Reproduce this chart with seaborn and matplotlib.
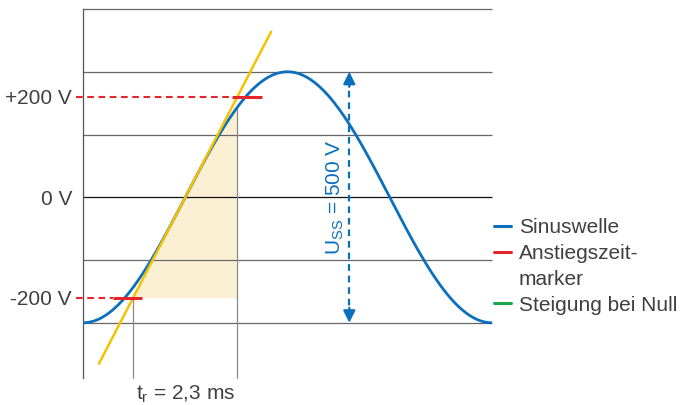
import numpy as np
import pandas as pd
import matplotlib
matplotlib.use("Agg")
import matplotlib.pyplot as plt
from matplotlib.lines import Line2D
import seaborn as sns

# ---- data ----
amplitude_v = 250.0          # U_ss = 500 V
period_ms = 9.0              # one full cycle across the plot
grid_levels = [375, 250, 125, 0, -125, -250]
tick_values = [-200, 0, 200]
tick_labels = ["-200 V", "0 V", "+200 V"]
marker_levels = [-200, 200]
marker_seg_start = [0.66, 3.28]
marker_seg_end = [1.30, 3.94]
tangent_t = [0.35, 4.14]
arrow_t = 5.86
legend_labels = ["Sinuswelle", "Anstiegszeit-", "marker", "Steigung bei Null"]

BLUE = "#0a6fbd"
RED = "#e4252b"
YELLOW = "#f6c200"
GREEN = "#1aa64b"
SHADE = "#fcf0d4"
TXT = "#404040"

sns.set_theme(style="white")
plt.rcParams["font.family"] = ["Liberation Sans", "DejaVu Sans"]
plt.rcParams["mathtext.fontset"] = "custom"
plt.rcParams["mathtext.rm"] = "Liberation Sans"
plt.rcParams["mathtext.it"] = "Liberation Sans"

fig = plt.figure(figsize=(6.84, 4.05), dpi=100)
ax = fig.add_axes([83 / 684, 27 / 405, 409 / 684, 371 / 405])
ax.set_xlim(0, period_ms)
ax.set_ylim(-360, 379)

# sine wave
t = np.linspace(0, period_ms, 600)
v = -amplitude_v * np.cos(2 * np.pi * t / period_ms)
df = pd.DataFrame({"t": t, "v": v})

# tangent at zero crossing
t0 = period_ms / 4
slope = amplitude_v * 2 * np.pi / period_ms
t1 = t0 + marker_levels[0] / slope
t2 = t0 + marker_levels[1] / slope

# shaded area
ts = np.linspace(t1, t2, 200)
vs = np.minimum(slope * (ts - t0), -amplitude_v * np.cos(2 * np.pi * ts / period_ms))
ax.fill_between(ts, marker_levels[0], vs, color=SHADE, lw=0, zorder=1)

# grid lines
for g in grid_levels:
    ax.plot([0, period_ms], [g, g], color="#111111" if g == 0 else "#666666",
            lw=0.9, zorder=2, clip_on=False, solid_capstyle="butt")

# vertical gray t_r lines
v2 = -amplitude_v * np.cos(2 * np.pi * t2 / period_ms)
ax.plot([t1, t1], [-360, marker_levels[0]], color="#8a8a8a", lw=0.9, zorder=2, clip_on=False)
ax.plot([t2, t2], [-360, v2], color="#8a8a8a", lw=0.9, zorder=2, clip_on=False)

sns.lineplot(data=df, x="t", y="v", ax=ax, color=BLUE, lw=2.0, zorder=4)

# tangent line
tt = np.array(tangent_t)
ax.plot(tt, slope * (tt - t0), color=YELLOW, lw=1.8, zorder=5)

# rise-time markers
for lvl, s, e in zip(marker_levels, marker_seg_start, marker_seg_end):
    ax.plot([-0.15, s], [lvl, lvl], color=RED, lw=1.5, ls=(0, (3.2, 2.2)),
            zorder=6, clip_on=False)
    ax.plot([s, e], [lvl, lvl], color=RED, lw=2.2, zorder=6, solid_capstyle="butt")

# U_ss double arrow
ax.plot([arrow_t, arrow_t], [-amplitude_v + 12, amplitude_v - 12], color=BLUE,
        lw=1.6, ls=(0, (3, 2.2)), zorder=6)
for yy, yf in [(amplitude_v, amplitude_v - 30), (-amplitude_v, -amplitude_v + 30)]:
    ax.annotate("", xy=(arrow_t, yy), xytext=(arrow_t, yf),
                arrowprops=dict(arrowstyle="-|>,head_length=0.6,head_width=0.3",
                                color=BLUE, lw=1.6, shrinkA=0, shrinkB=0), zorder=6)
ax.text(arrow_t - 0.30, 0, r"U$_{\mathrm{SS}}$ = 500 V", rotation=90, color=BLUE,
        fontsize=15, ha="center", va="center")

# t_r label
ax.text((t1 + t2) / 2, -392, r"t$_{\mathrm{r}}$ = 2,3 ms", color=TXT, fontsize=15,
        ha="center", va="center", clip_on=False)

# axes styling
for sp in ["top", "right", "bottom"]:
    ax.spines[sp].set_visible(False)
ax.spines["left"].set_color("#555555")
ax.spines["left"].set_linewidth(0.9)
ax.spines["left"].set_bounds(-360, 375)
ax.set_xticks([])
ax.set_yticks(tick_values)
ax.set_yticklabels(tick_labels)
ax.tick_params(axis="y", length=0, pad=8, labelsize=15, labelcolor=TXT)
ax.set_xlabel("")
ax.set_ylabel("")

# legend
handles = [Line2D([], [], color=BLUE, lw=2.2),
           Line2D([], [], color=RED, lw=2.2),
           Line2D([], [], color="none", lw=2.2),
           Line2D([], [], color=GREEN, lw=2.2)]
leg = ax.legend(handles, legend_labels, loc="upper left",
                bbox_to_anchor=(494 / 684, 1 - 218 / 405), bbox_transform=fig.transFigure,
                frameon=False, fontsize=15, handlelength=0.8, handletextpad=0.4,
                borderpad=0, borderaxespad=0, labelspacing=0.33)
for txt in leg.get_texts():
    txt.set_color(TXT)

fig.savefig("out.png", dpi=100)
